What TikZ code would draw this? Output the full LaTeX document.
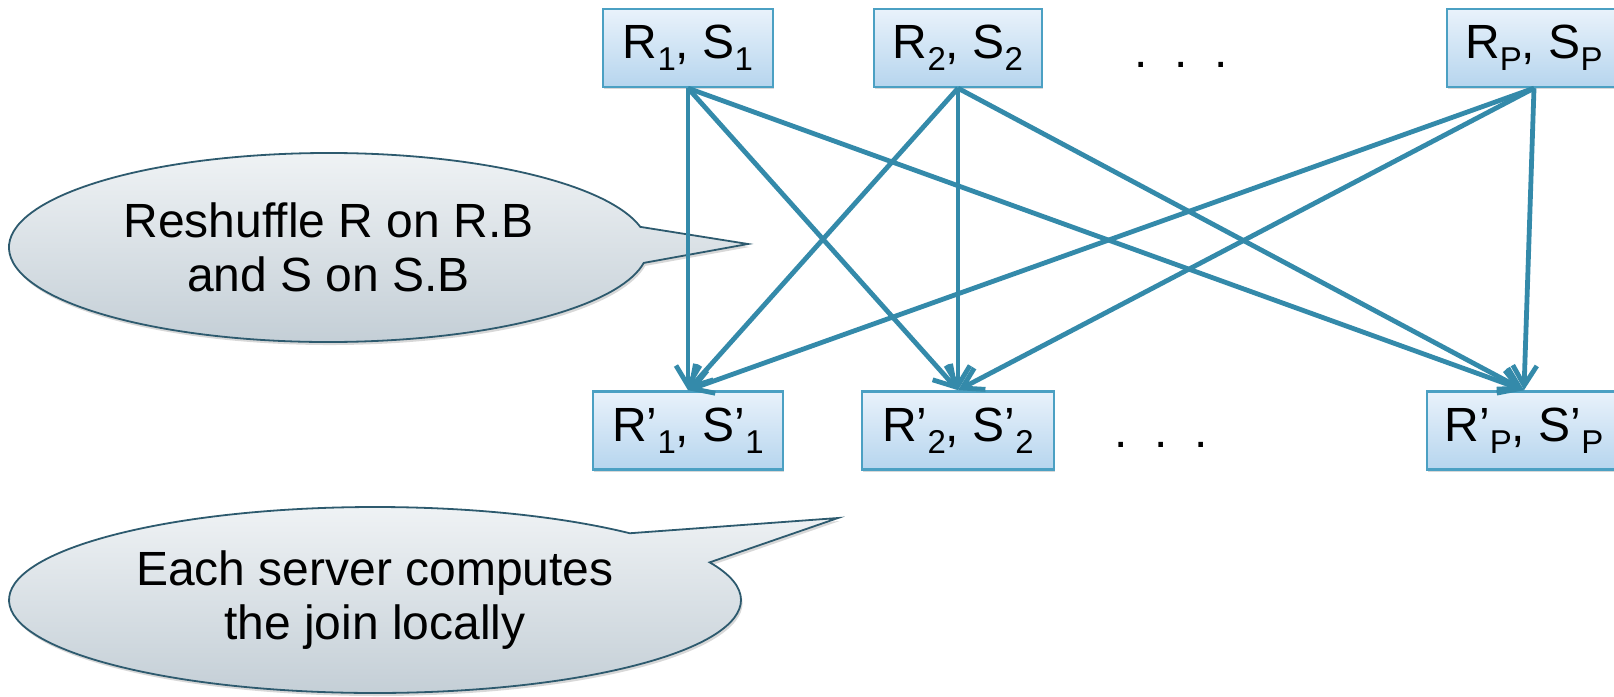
\documentclass[tikz,border=0pt]{standalone}
\usepackage{fontspec}
\setmainfont{Liberation Sans}
\usepackage{tikz}
\usetikzlibrary{arrows.meta, positioning, shapes.callouts, shadows}

\definecolor{srvline}{RGB}{75,160,195}
\definecolor{srvtop}{RGB}{233,242,251}
\definecolor{srvbot}{RGB}{182,213,238}
\definecolor{arrowblue}{RGB}{52,138,170}
\definecolor{noteline}{RGB}{45,90,110}
\definecolor{notetop}{RGB}{241,244,246}
\definecolor{notebot}{RGB}{194,205,213}

\newcommand{\srvsub}[1]{\raisebox{-6pt}{\fontsize{16.5}{16.5}\selectfont #1}}

\begin{document}
\begin{tikzpicture}[
        x=0.5pt, y=-0.5pt,
        every node/.style={font=\fontsize{24}{27}\selectfont},
        srv/.style={
            rectangle, draw=srvline, line width=1.2pt,
            top color=srvtop, bottom color=srvbot,
            minimum height=39pt, inner sep=0pt,
            drop shadow={shadow xshift=0.6pt, shadow yshift=-1.2pt, opacity=0.3}
        },
        note/.style={
            ellipse callout, draw=noteline, line width=0.9pt,
            top color=notetop, bottom color=notebot,
            align=center, inner sep=0pt, callout pointer arc=22,
            drop shadow={shadow xshift=0.8pt, shadow yshift=-1.5pt, opacity=0.3}
        },
        arr/.style={-{Straight Barb[length=10pt, width=12pt]}, line width=2.4pt, draw=arrowblue}
        ]

    \fill[white] (0,0) rectangle (1614,697);
    \useasboundingbox (0,0) rectangle (1614,697);
    \clip (0,0) rectangle (1614,697);

    % --- callouts ---
        \node[note, minimum width=319.5pt, minimum height=94.5pt,
              callout absolute pointer={(748,244)}] (reshuffle) at (328.5,247.5)
            {Reshuffle R on R.B\\ and S on S.B};

        \node[note, minimum width=366pt, minimum height=93pt,
              callout absolute pointer={(838,518)}] (localjoin) at (375,600)
            {Each server computes\\ the join locally};

    % --- servers before the reshuffle ---
        \node[srv, minimum width=85pt] (part1) at (688,48) {R\srvsub{1}, S\srvsub{1}};
        \node[srv, minimum width=84pt] (part2) at (958,48) {R\srvsub{2}, S\srvsub{2}};
        \node[srv, minimum width=87pt] (partP) at (1534,48) {R\srvsub{P}, S\srvsub{P}};
        \node[anchor=base] (dotstop) at (1181,67) {.\hspace{13.3pt}.\hspace{13.3pt}.};

    % --- servers after the reshuffle ---
        \node[srv, minimum width=95pt, below=151pt of part1] (shuf1) {R’\srvsub{1}, S’\srvsub{1}};
        \node[srv, minimum width=96pt, below=151pt of part2] (shuf2) {R’\srvsub{2}, S’\srvsub{2}};
        \node[srv, minimum width=97pt, below=151pt of partP, xshift=-5pt] (shufP) {R’\srvsub{P}, S’\srvsub{P}};
        \node[anchor=base] (dotsbot) at (1161,447) {.\hspace{13.3pt}.\hspace{13.3pt}.};

    % --- every server sends to every server ---
        \draw[arr] (part1.south) -- (shuf1.north);
        \draw[arr] (part1.south) -- (shuf2.north);
        \draw[arr] (part1.south) -- (shufP.north);
        \draw[arr] (part2.south) -- (shuf1.north);
        \draw[arr] (part2.south) -- (shuf2.north);
        \draw[arr] (part2.south) -- (shufP.north);
        \draw[arr] (partP.south) -- (shuf1.north);
        \draw[arr] (partP.south) -- (shuf2.north);
        \draw[arr] (partP.south) -- (shufP.north);

    \end{tikzpicture}
\end{document}
